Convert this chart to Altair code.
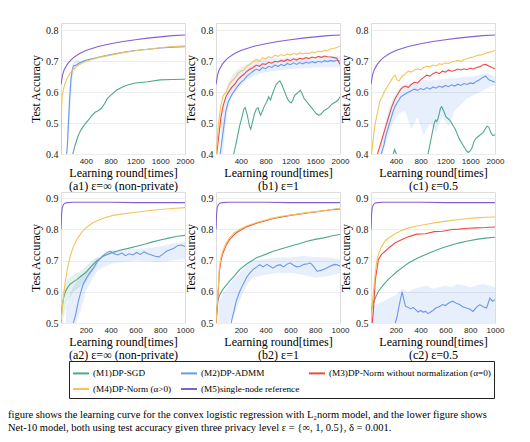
import altair as alt
import pandas as pd

M1 = "(M1)DP-SGD"
M2 = "(M2)DP-ADMM"
M3 = "(M3)DP-Norm without normalization (α=0)"
M4 = "(M4)DP-Norm (α>0)"
M5 = "(M5)single-node reference"
METHODS = [M1, M2, M3, M4, M5]
COLORS = ["#4fa88f", "#6a98ee", "#ec4a45", "#f2c45c", "#8460cf"]

TOP_XTICKS = [400, 800, 1200, 1600, 2000]
TOP_YTICKS = [0.4, 0.5, 0.6, 0.7, 0.8]
BOT_XTICKS = [200, 400, 600, 800, 1000]
BOT_YTICKS = [0.5, 0.6, 0.7, 0.8, 0.9]

SUBTITLES = ["(a1) ε=∞ (non-private)", "(b1) ε=1", "(c1) ε=0.5",
             "(a2) ε=∞ (non-private)", "(b2) ε=1", "(c2) ε=0.5"]

CAPTION = ["figure shows the learning curve for the convex logistic regression with L₂norm model, and the lower figure shows",
           "Net-10 model, both using test accuracy given three privacy level ε = {∞, 1, 0.5}, δ = 0.001."]

# ---------------- top row (logistic regression) ----------------
T_X_M5 = [0, 25, 50, 100, 150, 200, 300, 400, 600, 800, 1000, 1200, 1400, 1600, 1800, 2000]
T_Y_M5 = [0.625, 0.655, 0.672, 0.69, 0.702, 0.712, 0.725, 0.735, 0.748, 0.757, 0.764, 0.77, 0.775, 0.779, 0.783, 0.785]

A1_X_M4 = [0, 10, 20, 40, 60, 100, 150, 200, 300, 400, 500, 600, 800, 1000, 1200, 1400, 1600, 1800, 2000]
A1_Y_M4 = [0.40, 0.55, 0.59, 0.61, 0.625, 0.645, 0.662, 0.675, 0.69, 0.70, 0.706, 0.712, 0.72, 0.728, 0.734, 0.739, 0.744, 0.748, 0.75]
A1_X_M2 = [80, 100, 120, 140, 160, 180, 200, 250, 300, 400, 500, 600, 800, 1000, 1200, 1400, 1600, 1800, 2000]
A1_Y_M2 = [0.38, 0.42, 0.50, 0.58, 0.64, 0.67, 0.685, 0.688, 0.695, 0.703, 0.708, 0.713, 0.722, 0.729, 0.735, 0.739, 0.743, 0.746, 0.747]
A1_BX_M2 = [100, 140, 180, 220, 260, 300, 400]
A1_LO_M2 = [0.38, 0.50, 0.64, 0.672, 0.683, 0.69, 0.70]
A1_HI_M2 = [0.47, 0.63, 0.69, 0.70, 0.705, 0.70, 0.706]
A1_X_M1 = [150, 190, 230, 270, 300, 350, 400, 450, 500, 550, 600, 650, 700, 750, 800, 900, 1000, 1100, 1200, 1400, 1600, 1800, 2000]
A1_Y_M1 = [0.35, 0.40, 0.43, 0.455, 0.47, 0.487, 0.50, 0.512, 0.525, 0.535, 0.54, 0.548, 0.562, 0.58, 0.59, 0.607, 0.618, 0.625, 0.63, 0.634, 0.64, 0.641, 0.642]

B1_X = [0, 40, 80, 120, 160, 200, 250, 300, 350, 400, 450, 500, 550, 600, 650, 700, 750, 800, 850, 900, 950,
        1000, 1050, 1100, 1150, 1200, 1250, 1300, 1350, 1400, 1450, 1500, 1550, 1600, 1650, 1700, 1750, 1800,
        1850, 1900, 1950, 2000]
B1_Y_M4 = [0.39, 0.50, 0.56, 0.59, 0.60, 0.62, 0.635, 0.645, 0.66, 0.668, 0.672, 0.685, 0.69, 0.70, 0.706, 0.70,
           0.712, 0.708, 0.715, 0.711, 0.72, 0.716, 0.722, 0.718, 0.724, 0.72, 0.726, 0.722, 0.728, 0.724, 0.727,
           0.725, 0.73, 0.728, 0.733, 0.731, 0.736, 0.735, 0.74, 0.742, 0.745, 0.749]
B1_Y_M3 = [0.38, 0.45, 0.52, 0.56, 0.585, 0.60, 0.615, 0.625, 0.64, 0.65, 0.658, 0.668, 0.675, 0.68, 0.688, 0.684,
           0.692, 0.69, 0.697, 0.694, 0.70, 0.698, 0.703, 0.70, 0.706, 0.702, 0.708, 0.704, 0.71, 0.707, 0.712,
           0.709, 0.714, 0.711, 0.716, 0.713, 0.717, 0.715, 0.714, 0.712, 0.71, 0.69]
B1_Y_M2 = [0.30, 0.36, 0.42, 0.48, 0.54, 0.57, 0.59, 0.605, 0.62, 0.632, 0.64, 0.652, 0.66, 0.668, 0.675, 0.67,
           0.68, 0.676, 0.684, 0.68, 0.688, 0.683, 0.69, 0.686, 0.693, 0.689, 0.695, 0.69, 0.696, 0.692, 0.697,
           0.694, 0.699, 0.695, 0.70, 0.697, 0.702, 0.699, 0.703, 0.70, 0.704, 0.70]
B1_BX_M2 = [80, 120, 160, 200, 250, 300, 400, 500, 600, 700, 800, 1000, 1200, 1600, 2000]
B1_LO_M2 = [0.35, 0.42, 0.50, 0.55, 0.58, 0.60, 0.62, 0.64, 0.65, 0.66, 0.665, 0.67, 0.675, 0.68, 0.68]
B1_HI_M2 = [0.50, 0.56, 0.60, 0.63, 0.65, 0.665, 0.68, 0.69, 0.70, 0.705, 0.708, 0.71, 0.712, 0.715, 0.718]
B1_X_M1 = [250, 285, 320, 350, 380, 420, 450, 470, 500, 520, 540, 560, 590, 620, 650, 680, 700, 720, 750, 780,
           820, 850, 880, 910, 940, 970, 1000, 1030, 1060, 1090, 1120, 1150, 1180, 1210, 1240, 1270, 1300, 1330,
           1360, 1390, 1420, 1460, 1500, 1540, 1580, 1620, 1660, 1700, 1740, 1780, 1820, 1860, 1900, 1940, 1970, 2000]
B1_Y_M1 = [0.36, 0.40, 0.43, 0.46, 0.49, 0.52, 0.545, 0.55, 0.53, 0.51, 0.49, 0.48, 0.505, 0.53, 0.545, 0.55,
           0.535, 0.525, 0.54, 0.555, 0.57, 0.585, 0.575, 0.595, 0.61, 0.625, 0.632, 0.637, 0.625, 0.61, 0.595,
           0.58, 0.57, 0.565, 0.575, 0.59, 0.595, 0.60, 0.606, 0.595, 0.58, 0.57, 0.56, 0.55, 0.54, 0.53, 0.525,
           0.53, 0.54, 0.545, 0.55, 0.56, 0.565, 0.57, 0.575, 0.585]

C1_X = [0, 30, 60, 90, 120, 150, 180, 210, 240, 270, 300, 330, 360, 390, 420, 450, 480, 520, 560, 600, 650, 700,
        750, 800, 850, 900, 950, 1000, 1050, 1100, 1150, 1200, 1250, 1300, 1350, 1400, 1450, 1500, 1550, 1600,
        1650, 1700, 1750, 1800, 1850, 1900, 1950, 2000]
C1_Y_M4 = [0.38, 0.44, 0.49, 0.52, 0.55, 0.575, 0.585, 0.60, 0.61, 0.62, 0.63, 0.64, 0.65, 0.655, 0.64, 0.636,
           0.645, 0.655, 0.66, 0.668, 0.665, 0.672, 0.676, 0.672, 0.68, 0.684, 0.682, 0.688, 0.685, 0.692, 0.69,
           0.695, 0.693, 0.698, 0.70, 0.703, 0.70, 0.706, 0.708, 0.712, 0.714, 0.718, 0.72, 0.722, 0.726, 0.729,
           0.732, 0.735]
C1_Y_M3 = [0.30, 0.33, 0.36, 0.39, 0.41, 0.43, 0.45, 0.47, 0.49, 0.51, 0.53, 0.55, 0.565, 0.58, 0.59, 0.60, 0.61,
           0.617, 0.62, 0.615, 0.625, 0.632, 0.63, 0.64, 0.648, 0.655, 0.652, 0.66, 0.665, 0.66, 0.668, 0.665,
           0.672, 0.668, 0.67, 0.675, 0.672, 0.676, 0.673, 0.678, 0.675, 0.68, 0.682, 0.688, 0.69, 0.685, 0.68, 0.676]
C1_Y_M2 = [0.28, 0.30, 0.32, 0.35, 0.37, 0.39, 0.41, 0.43, 0.46, 0.48, 0.50, 0.52, 0.54, 0.555, 0.565, 0.575,
           0.585, 0.59, 0.595, 0.60, 0.605, 0.61, 0.606, 0.612, 0.608, 0.615, 0.61, 0.617, 0.613, 0.62, 0.616,
           0.622, 0.618, 0.624, 0.62, 0.626, 0.622, 0.628, 0.625, 0.63, 0.628, 0.635, 0.64, 0.648, 0.652, 0.64,
           0.636, 0.632]
C1_BX_M2 = [150, 250, 350, 450, 550, 650, 750, 850, 950, 1050, 1150, 1250, 1350, 1450, 1550, 1650, 1750, 1850, 1950, 2000]
C1_LO_M2 = [0.38, 0.44, 0.50, 0.53, 0.54, 0.48, 0.52, 0.46, 0.50, 0.47, 0.52, 0.49, 0.54, 0.56, 0.58, 0.59, 0.60, 0.61, 0.62, 0.62]
C1_HI_M2 = [0.43, 0.52, 0.58, 0.61, 0.625, 0.63, 0.635, 0.64, 0.638, 0.64, 0.642, 0.645, 0.645, 0.648, 0.65, 0.652, 0.655, 0.662, 0.655, 0.65]
C1_X_M1 = [330, 360, 380, 400, 430, 470, 520, 600, 700, 800, 880, 920, 950, 980, 1000, 1020, 1040, 1060, 1080,
           1100, 1120, 1140, 1160, 1180, 1210, 1240, 1270, 1300, 1330, 1360, 1390, 1420, 1450, 1480, 1510, 1540,
           1570, 1600, 1630, 1660, 1690, 1720, 1750, 1780, 1810, 1840, 1870, 1900, 1930, 1960, 2000]
C1_Y_M1 = [0.38, 0.40, 0.415, 0.405, 0.39, 0.37, 0.35, 0.34, 0.35, 0.36, 0.38, 0.40, 0.43, 0.46, 0.48, 0.50, 0.51,
           0.505, 0.515, 0.53, 0.548, 0.553, 0.545, 0.535, 0.52, 0.515, 0.51, 0.50, 0.49, 0.48, 0.465, 0.45, 0.44,
           0.43, 0.42, 0.41, 0.405, 0.41, 0.42, 0.44, 0.45, 0.455, 0.46, 0.465, 0.47, 0.48, 0.49, 0.487, 0.47,
           0.46, 0.462]

# ---------------- bottom row (ResNet-10) ----------------
B_X_M5 = [0, 5, 10, 20, 30, 50, 100, 200, 400, 600, 800, 1000]
B_Y_M5 = [0.80, 0.85, 0.87, 0.88, 0.884, 0.886, 0.887, 0.887, 0.887, 0.886, 0.886, 0.886]

A2_X_M4 = [0, 10, 20, 30, 50, 75, 100, 130, 170, 210, 260, 340, 420, 500, 600, 700, 800, 900, 1000]
A2_Y_M4 = [0.50, 0.55, 0.58, 0.62, 0.67, 0.715, 0.745, 0.77, 0.792, 0.808, 0.822, 0.836, 0.845, 0.850, 0.855, 0.86, 0.864, 0.867, 0.87]
A2_X_M1 = [0, 8, 20, 35, 55, 75, 100, 130, 160, 200, 240, 290, 340, 400, 475, 550, 610, 680, 740, 800, 875, 940, 1000]
A2_Y_M1 = [0.50, 0.55, 0.58, 0.60, 0.615, 0.625, 0.632, 0.64, 0.65, 0.662, 0.68, 0.70, 0.714, 0.724, 0.733, 0.74, 0.746, 0.753, 0.76, 0.766, 0.773, 0.778, 0.781]
A2_BX_M1 = [10, 50, 100, 150, 200, 250, 300]
A2_LO_M1 = [0.50, 0.57, 0.60, 0.615, 0.63, 0.66, 0.69]
A2_HI_M1 = [0.60, 0.64, 0.655, 0.665, 0.68, 0.70, 0.715]
A2_X_M2 = [80, 100, 120, 140, 160, 180, 200, 230, 260, 290, 320, 350, 380, 400, 430, 460, 490, 520, 550, 580,
           610, 640, 670, 700, 730, 760, 790, 820, 850, 880, 910, 940, 970, 1000]
A2_Y_M2 = [0.46, 0.50, 0.53, 0.57, 0.60, 0.625, 0.64, 0.66, 0.675, 0.695, 0.708, 0.72, 0.728, 0.73, 0.722, 0.718,
           0.725, 0.716, 0.722, 0.718, 0.726, 0.72, 0.728, 0.722, 0.718, 0.714, 0.712, 0.72, 0.73, 0.735, 0.74,
           0.748, 0.75, 0.745]
A2_BX_M2 = [40, 80, 120, 160, 200, 250, 300, 400, 500, 600, 700, 800, 900, 1000]
A2_LO_M2 = [0.5, 0.5, 0.5, 0.54, 0.6, 0.64, 0.67, 0.69, 0.695, 0.70, 0.698, 0.695, 0.70, 0.705]
A2_HI_M2 = [0.55, 0.6, 0.63, 0.65, 0.665, 0.69, 0.71, 0.735, 0.735, 0.738, 0.74, 0.745, 0.755, 0.76]

B2_X_M4 = [0, 7, 14, 27, 40, 54, 80, 109, 150, 190, 250, 326, 400, 462, 530, 598, 670, 734, 800, 870, 930, 1000]
B2_Y_M4 = [0.50, 0.54, 0.58, 0.677, 0.71, 0.73, 0.755, 0.773, 0.79, 0.80, 0.812, 0.822, 0.83, 0.837, 0.842, 0.846, 0.85, 0.854, 0.857, 0.86, 0.864, 0.868]
B2_Y_M3 = [0.50, 0.53, 0.57, 0.665, 0.70, 0.722, 0.748, 0.767, 0.785, 0.796, 0.809, 0.82, 0.828, 0.835, 0.84, 0.845, 0.849, 0.853, 0.856, 0.86, 0.863, 0.866]
B2_X_M1 = [0, 7, 14, 30, 54, 80, 109, 150, 190, 250, 326, 400, 462, 530, 598, 670, 734, 800, 870, 930, 1000]
B2_Y_M1 = [0.50, 0.54, 0.57, 0.59, 0.607, 0.62, 0.634, 0.652, 0.671, 0.69, 0.709, 0.72, 0.73, 0.738, 0.746, 0.754, 0.762, 0.768, 0.773, 0.779, 0.784]
B2_X_M2 = [100, 122, 140, 163, 190, 217, 245, 272, 300, 330, 353, 380, 410, 435, 460, 490, 516, 545, 570, 598,
           625, 650, 680, 710, 740, 761, 790, 815, 840, 870, 897, 930, 960, 978, 1000]
B2_Y_M2 = [0.46, 0.50, 0.53, 0.57, 0.60, 0.623, 0.645, 0.66, 0.672, 0.68, 0.687, 0.68, 0.688, 0.682, 0.676, 0.684,
           0.687, 0.68, 0.688, 0.693, 0.685, 0.68, 0.682, 0.688, 0.69, 0.693, 0.68, 0.666, 0.668, 0.672, 0.677,
           0.684, 0.688, 0.687, 0.682]
B2_BX_M2 = [20, 60, 100, 140, 180, 220, 260, 300, 400, 500, 600, 700, 800, 900, 1000]
B2_LO_M2 = [0.5, 0.5, 0.5, 0.52, 0.56, 0.6, 0.63, 0.645, 0.655, 0.66, 0.66, 0.655, 0.645, 0.65, 0.66]
B2_HI_M2 = [0.56, 0.6, 0.62, 0.64, 0.655, 0.675, 0.69, 0.70, 0.705, 0.71, 0.71, 0.715, 0.712, 0.71, 0.705]

C2_X_M4 = [0, 5, 15, 33, 45, 60, 85, 114, 150, 196, 250, 305, 370, 441, 510, 578, 650, 714, 780, 850, 920, 1000]
C2_Y_M4 = [0.50, 0.53, 0.58, 0.655, 0.695, 0.72, 0.745, 0.763, 0.775, 0.786, 0.797, 0.805, 0.811, 0.816, 0.821, 0.825, 0.829, 0.832, 0.835, 0.837, 0.839, 0.84]
C2_X_M3 = [0, 10, 19, 35, 60, 85, 114, 150, 196, 250, 305, 370, 441, 510, 578, 650, 714, 780, 850, 920, 1000]
C2_Y_M3 = [0.48, 0.50, 0.537, 0.64, 0.704, 0.72, 0.73, 0.743, 0.757, 0.768, 0.777, 0.785, 0.786, 0.793, 0.794, 0.80, 0.801, 0.804, 0.805, 0.806, 0.808]
C2_X_M1 = [0, 5, 20, 40, 60, 100, 140, 169, 210, 260, 305, 370, 441, 510, 578, 650, 714, 780, 850, 920, 1000]
C2_Y_M1 = [0.50, 0.548, 0.565, 0.585, 0.602, 0.622, 0.64, 0.65, 0.665, 0.68, 0.693, 0.707, 0.72, 0.731, 0.741, 0.75, 0.757, 0.763, 0.768, 0.772, 0.775]
C2_X_M2 = [150, 170, 196, 210, 223, 237, 251, 265, 278, 300, 320, 340, 360, 380, 400, 420, 441, 460, 480, 500,
           523, 550, 578, 600, 630, 660, 690, 714, 740, 768, 795, 823, 850, 877, 905, 932, 959, 980, 1000]
C2_Y_M2 = [0.45, 0.47, 0.50, 0.52, 0.548, 0.575, 0.60, 0.575, 0.554, 0.55, 0.545, 0.55, 0.543, 0.535, 0.54, 0.535,
           0.537, 0.53, 0.535, 0.54, 0.548, 0.552, 0.559, 0.556, 0.565, 0.57, 0.563, 0.559, 0.552, 0.548, 0.545,
           0.537, 0.55, 0.559, 0.552, 0.548, 0.58, 0.57, 0.575]
C2_BX_M2 = [0, 50, 100, 150, 200, 250, 300, 350, 400, 450, 500, 550, 600, 650, 700, 750, 800, 850, 900, 950, 1000]
C2_LO_M2 = [0.48, 0.48, 0.48, 0.48, 0.48, 0.48, 0.48, 0.48, 0.48, 0.48, 0.48, 0.48, 0.48, 0.48, 0.48, 0.48, 0.48, 0.48, 0.48, 0.48, 0.48]
C2_HI_M2 = [0.55, 0.56, 0.57, 0.58, 0.59, 0.61, 0.60, 0.61, 0.615, 0.62, 0.61, 0.615, 0.62, 0.615, 0.625, 0.62, 0.615, 0.62, 0.625, 0.62, 0.615]


def lines_df(series):
    rows = []
    for name, xs, ys in series:
        for a, b in zip(xs, ys):
            rows.append({"method": name, "x": a, "y": b})
    return pd.DataFrame(rows)


def bands_df(series):
    rows = []
    for name, xs, lo, hi in series:
        for a, l, h in zip(xs, lo, hi):
            rows.append({"method": name, "x": a, "lo": l, "hi": h})
    return pd.DataFrame(rows)


SERIF = "Liberation Serif"
SANS = "Liberation Sans"

LEGEND = alt.Legend(
    title=None, orient="none", legendX=8, legendY=338, direction="horizontal", columns=3,
    columnPadding=5, rowPadding=1, padding=3, strokeColor="#222",
    symbolType="stroke", symbolSize=256, symbolStrokeWidth=2, labelOffset=3,
    labelFont=SERIF, labelFontSize=9.2, labelColor="black", labelLimit=300,
)

PW, PH = 124, 131


def panel(lines, bands, xdom, xticks, ydom, yticks, sub):
    cscale = alt.Scale(domain=METHODS, range=COLORS)
    # band fill scale: same colours, listed in reverse so it stays a separate (legend-less) scale
    fscale = alt.Scale(domain=METHODS[::-1], range=COLORS[::-1])
    xscale = alt.Scale(domain=xdom, nice=False, zero=False)
    yscale = alt.Scale(domain=ydom, nice=False, zero=False)
    xaxis = alt.Axis(values=xticks, title=["Learning round[times]", sub], grid=False, format="d",
                     labelFont=SANS, labelFontSize=8, labelColor="#222", labelPadding=3,
                     labelOverlap=False, labelFlush=False,
                     titleFont=SERIF, titleFontSize=12, titleFontWeight="normal", titleColor="black",
                     titleLineHeight=13, titlePadding=2, ticks=False, domain=False)
    yaxis = alt.Axis(values=yticks, title="Test Accuracy", grid=True, gridColor="#ececec", format=".1f",
                     labelFont=SERIF, labelFontSize=10, labelColor="#222", labelPadding=3,
                     labelOverlap=False, labelFlush=False,
                     titleFont=SERIF, titleFontSize=12, titleFontWeight="normal", titleColor="black",
                     titlePadding=3, ticks=False, domain=False)
    band = alt.Chart(bands).mark_area(opacity=0.16, clip=True).encode(
        x=alt.X("x:Q", scale=xscale, axis=xaxis),
        y=alt.Y("lo:Q", scale=yscale, axis=yaxis),
        y2="hi:Q",
        fill=alt.Fill("method:N", scale=fscale, legend=None),
        detail="method:N",
    )
    line = alt.Chart(lines).mark_line(strokeWidth=1.1, clip=True).encode(
        x=alt.X("x:Q", scale=xscale, axis=xaxis),
        y=alt.Y("y:Q", scale=yscale, axis=yaxis),
        color=alt.Color("method:N", scale=cscale, legend=LEGEND),
    )
    return alt.layer(band, line).properties(width=PW, height=PH)


TOP_XDOM = [0, 2000]
TOP_YDOM = [0.4, 0.824]
BOT_XDOM = [0, 1000]
BOT_YDOM = [0.5, 0.92]

a1 = panel(lines_df([(M1, A1_X_M1, A1_Y_M1), (M2, A1_X_M2, A1_Y_M2), (M4, A1_X_M4, A1_Y_M4), (M5, T_X_M5, T_Y_M5)]),
           bands_df([(M2, A1_BX_M2, A1_LO_M2, A1_HI_M2)]),
           TOP_XDOM, TOP_XTICKS, TOP_YDOM, TOP_YTICKS, SUBTITLES[0])
b1 = panel(lines_df([(M1, B1_X_M1, B1_Y_M1), (M2, B1_X, B1_Y_M2), (M3, B1_X, B1_Y_M3), (M4, B1_X, B1_Y_M4), (M5, T_X_M5, T_Y_M5)]),
           bands_df([(M2, B1_BX_M2, B1_LO_M2, B1_HI_M2)]),
           TOP_XDOM, TOP_XTICKS, TOP_YDOM, TOP_YTICKS, SUBTITLES[1])
c1 = panel(lines_df([(M1, C1_X_M1, C1_Y_M1), (M2, C1_X, C1_Y_M2), (M3, C1_X, C1_Y_M3), (M4, C1_X, C1_Y_M4), (M5, T_X_M5, T_Y_M5)]),
           bands_df([(M2, C1_BX_M2, C1_LO_M2, C1_HI_M2)]),
           TOP_XDOM, TOP_XTICKS, TOP_YDOM, TOP_YTICKS, SUBTITLES[2])
a2 = panel(lines_df([(M1, A2_X_M1, A2_Y_M1), (M2, A2_X_M2, A2_Y_M2), (M4, A2_X_M4, A2_Y_M4), (M5, B_X_M5, B_Y_M5)]),
           bands_df([(M1, A2_BX_M1, A2_LO_M1, A2_HI_M1), (M2, A2_BX_M2, A2_LO_M2, A2_HI_M2)]),
           BOT_XDOM, BOT_XTICKS, BOT_YDOM, BOT_YTICKS, SUBTITLES[3])
b2 = panel(lines_df([(M1, B2_X_M1, B2_Y_M1), (M2, B2_X_M2, B2_Y_M2), (M3, B2_X_M4, B2_Y_M3), (M4, B2_X_M4, B2_Y_M4), (M5, B_X_M5, B_Y_M5)]),
           bands_df([(M2, B2_BX_M2, B2_LO_M2, B2_HI_M2)]),
           BOT_XDOM, BOT_XTICKS, BOT_YDOM, BOT_YTICKS, SUBTITLES[4])
c2 = panel(lines_df([(M1, C2_X_M1, C2_Y_M1), (M2, C2_X_M2, C2_Y_M2), (M3, C2_X_M3, C2_Y_M3), (M4, C2_X_M4, C2_Y_M4), (M5, B_X_M5, B_Y_M5)]),
           bands_df([(M2, C2_BX_M2, C2_LO_M2, C2_HI_M2)]),
           BOT_XDOM, BOT_XTICKS, BOT_YDOM, BOT_YTICKS, SUBTITLES[5])

chart = (
    alt.concat(a1, b1, c1, a2, b2, c2, columns=3, spacing={"row": 38, "column": 31}, bounds="flush")
    .resolve_scale(color="shared", fill="shared")
    .properties(
        padding={"left": 0, "top": 14, "right": 0, "bottom": 0},
        title=alt.TitleParams(
            text=CAPTION, orient="bottom", anchor="start", frame="bounds", dx=-21, offset=11,
            font=SERIF, fontSize=10.5, fontWeight="normal", color="black", lineHeight=13.5,
            baseline="top", limit=512,
        ),
    )
    .configure_view(stroke="#333", strokeWidth=1.3)
    .configure(background="white")
)

chart.save("out.html", embed_options={"renderer": "svg", "actions": False})
